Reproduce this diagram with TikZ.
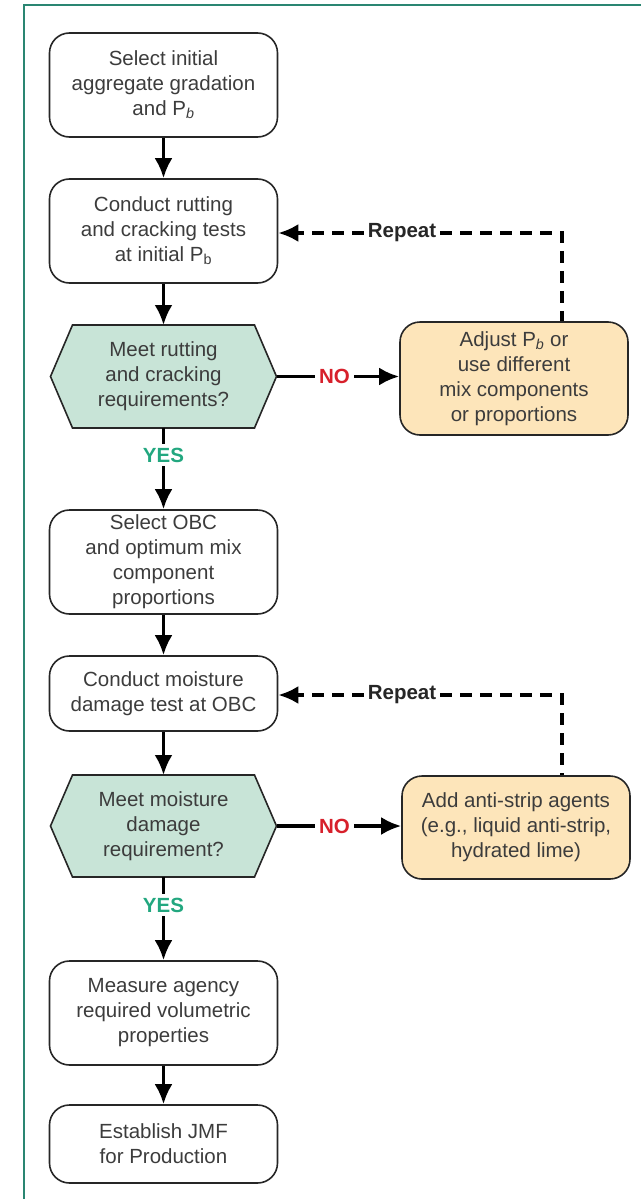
\documentclass[tikz,border=0pt]{standalone}
\usepackage{fontspec}
\setmainfont{Liberation Sans}
\usepackage{tikz}
\usetikzlibrary{arrows.meta, backgrounds}
\tikzset{>={Latex[length=20pt, width=18pt]}}
\definecolor{frameteal}{HTML}{2A8672}
\definecolor{hexfill}{HTML}{C8E4D7}
\definecolor{adjfill}{HTML}{FDE5BA}
\definecolor{yesgreen}{HTML}{22A77F}
\definecolor{nored}{HTML}{D7202B}
\definecolor{txtgray}{HTML}{3C3C3C}
\tikzset{
    stepbox/.style={draw=black!85, line width=1.6pt, rounded corners=20pt, align=center,
        text=txtgray, font=\fontsize{20.5}{25}\selectfont, minimum width=228pt, minimum height=104pt},
    adjbox/.style={stepbox, fill=adjfill},
    hexnode/.style={align=center, text=txtgray, font=\fontsize{20.5}{25}\selectfont,
        minimum width=226pt, minimum height=103pt, outer sep=0pt},
    hexline/.style={draw=black!85, line width=1.6pt, fill=hexfill},
    flow/.style={line width=3.5pt},
    loopback/.style={line width=3.5pt, dash pattern=on 12pt off 8pt},
    lbl/.style={font=\bfseries\fontsize{20.5}{22}\selectfont, inner sep=4pt},
}
\newcommand{\Pb}{P\textsubscript{\textit{b}}}
% hexagon behind a decision node
\newcommand{\hexback}[1]{
    \begin{scope}[on background layer]
        \path[hexline](#1.west)--([xshift=22pt]#1.north west)--([xshift=-22pt]#1.north east)
            --(#1.east)--([xshift=-22pt]#1.south east)--([xshift=22pt]#1.south west)--cycle;
    \end{scope}
}

\begin{document}
\begin{tikzpicture}[x=1pt, y=-1pt]
    \useasboundingbox (0, 0) rectangle (641, 1199);
    \draw[frameteal, line width=2.2pt](24, 1199)--(24, 5)--(641, 5);

    \node[stepbox] (sel) at (163.5, 85) {Select initial\\aggregate gradation\\and \Pb};
    \node[stepbox] (rut) at (163.5, 231) {Conduct rutting\\and cracking tests\\at initial P\textsubscript{b}};
    \node[hexnode] (meet1) at (163.5, 376.5) {Meet rutting\\and cracking\\requirements?};
    \hexback{meet1}
    \node[adjbox] (adj) at (514, 378.5) [minimum height=113pt] {Adjust \Pb{} or\\use different\\mix components\\or proportions};
    \node[stepbox] (obc) at (163.5, 562) {Select OBC\\and optimum mix\\component\\proportions};
    \node[stepbox] (moist) at (163.5, 693.5) [minimum height=75pt] {Conduct moisture\\damage test at OBC};
    \node[hexnode] (meet2) at (163.5, 826) [minimum height=102pt] {Meet moisture\\damage\\requirement?};
    \hexback{meet2}
    \node[adjbox] (strip) at (516, 827.5) [minimum height=103pt] {Add anti-strip agents\\(e.g., liquid anti-strip,\\hydrated lime)};
    \node[stepbox] (vol) at (163.5, 1013) {Measure agency\\required volumetric\\properties};
    \node[stepbox] (jmf) at (163.5, 1144) [minimum height=78pt] {Establish JMF\\for Production};

    \node[lbl, text=yesgreen] (yes1) at (163.5, 455) {YES};
    \node[lbl, text=yesgreen] (yes2) at (163.5, 905) {YES};
    \node[lbl, text=nored] (no1) at (334.5, 376.5) {NO};
    \node[lbl, text=nored] (no2) at (334.5, 826) {NO};
    \node[lbl, text=black!85] (rep1) at (402, 233) {Repeat};
    \node[lbl, text=black!85] (rep2) at (402, 695) {Repeat};
    \coordinate (c1) at (562, 233);
    \coordinate (c2) at (562, 695);

    % main line
    \draw[flow, ->](sel)--(rut);
    \draw[flow, ->](rut)--(meet1);
    \draw[flow](meet1)--(yes1);
    \draw[flow, ->](yes1)--(obc);
    \draw[flow, ->](obc)--(moist);
    \draw[flow, ->](moist)--(meet2);
    \draw[flow](meet2)--(yes2);
    \draw[flow, ->](yes2)--(vol);
    \draw[flow, ->](vol)--(jmf);
    % NO branches
    \draw[flow](meet1.east)--(no1);
    \draw[flow, ->](no1)--(no1 -| adj.west);
    \draw[flow](meet2.east)--(no2);
    \draw[flow, ->](no2)--(no2 -| strip.west);
    % repeat loops
    \draw[loopback](rep1)--(c1)--(adj.north -| c1);
    \draw[loopback, ->](rep1)--(rep1 -| rut.east);
    \draw[loopback](rep2)--(c2)--(strip.north -| c2);
    \draw[loopback, ->](rep2)--(rep2 -| moist.east);
\end{tikzpicture}
\end{document}
